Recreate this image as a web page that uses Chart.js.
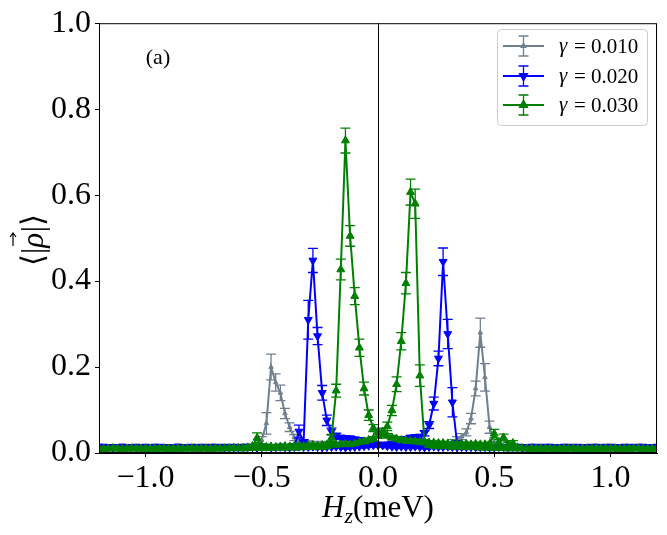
<!DOCTYPE html>
<html>
<head>
<meta charset="utf-8">
<script src="https://cdn.jsdelivr.net/npm/chart.js@4.4.1/dist/chart.umd.min.js"></script>
<style>
  body { margin: 0; background: #fff; }
  #wrap { width: 667px; height: 535px; }
</style>
</head>
<body>
<div id="wrap"><canvas id="rho-chart" width="667" height="535"></canvas></div>
<script>
// field grid, meV
const hzStart = -1.2;
const hzStep = 0.02;

const seriesNames = ["0.010", "0.020", "0.030"];
const seriesColors = ["#708090", "#0000ff", "#008000"];
const xTicks = [-1.0, -0.5, 0.0, 0.5, 1.0];
const yTicks = [0.0, 0.2, 0.4, 0.6, 0.8, 1.0];

// <|rho|> for the sweep with the peak at positive Hz and the one with the peak at negative Hz
// (both listed in ascending Hz order)
const grayUp = [
  .010,.011,.010,.009,.010,.011,.010,.010,.011,.010,
  .010,.009,.010,.011,.010,.010,.011,.010,.009,.010,
  .011,.010,.010,.011,.010,.011,.010,.011,.012,.011,
  .011,.012,.011,.012,.013,.012,.013,.012,.013,.014,
  .013,.014,.015,.014,.015,.016,.015,.016,.017,.016,
  .017,.018,.017,.018,.019,.018,.019,.020,.019,.020,
  .021,.020,.021,.020,.021,.022,.021,.020,.021,.020,
  .021,.020,.021,.020,.021,.022,.026,.032,.038,.048,
  .080,.150,.280,.176,.060,.025,.015,.012,.011,.010,
  .011,.010,.010,.011,.010,.009,.010,.011,.010,.010,
  .011,.010,.009,.010,.011,.010,.010,.011,.010,.009,
  .010,.011,.010,.010,.011,.010,.009,.010,.011,.010,.010
];
const grayDown = [
  .010,.010,.011,.010,.009,.010,.011,.010,.010,.011,
  .010,.011,.010,.009,.010,.011,.010,.010,.011,.010,
  .010,.011,.010,.010,.011,.010,.011,.010,.010,.011,
  .011,.010,.012,.014,.018,.030,.069,.200,.164,.140,
  .092,.060,.036,.030,.026,.024,.023,.022,.023,.022,
  .022,.021,.022,.021,.020,.021,.020,.021,.020,.020,
  .020,.019,.020,.019,.018,.019,.018,.017,.018,.017,
  .016,.017,.016,.015,.016,.015,.014,.015,.014,.013,
  .014,.013,.012,.013,.012,.011,.012,.011,.010,.011,
  .010,.011,.010,.010,.011,.010,.009,.010,.011,.010,
  .010,.011,.010,.009,.010,.011,.010,.010,.011,.010,
  .010,.010,.011,.010,.009,.010,.011,.010,.010,.011,.010
];
const blueUp = [
  .014,.015,.014,.013,.014,.015,.014,.014,.015,.014,
  .013,.014,.015,.014,.014,.013,.014,.015,.014,.014,
  .015,.014,.013,.014,.015,.014,.014,.015,.014,.013,
  .014,.015,.014,.014,.013,.014,.015,.014,.014,.015,
  .014,.013,.014,.015,.014,.014,.015,.014,.013,.014,
  .014,.015,.014,.013,.014,.014,.015,.016,.017,.018,
  .018,.019,.020,.022,.025,.030,.033,.036,.037,.038,
  .046,.065,.115,.220,.445,.277,.118,.023,.016,.014,
  .015,.014,.014,.015,.014,.013,.014,.015,.014,.014,
  .015,.014,.013,.014,.015,.014,.014,.015,.014,.013,
  .014,.015,.014,.014,.013,.014,.015,.014,.014,.015,
  .014,.013,.014,.015,.014,.014,.015,.014,.013,.014,.015
];
const blueDown = [
  .015,.014,.014,.013,.014,.015,.014,.014,.013,.014,
  .015,.014,.014,.015,.014,.013,.014,.015,.014,.014,
  .013,.014,.015,.014,.014,.015,.014,.013,.014,.015,
  .014,.014,.015,.014,.013,.014,.015,.014,.014,.015,
  .014,.015,.016,.050,.025,.310,.448,.272,.140,.076,
  .050,.040,.036,.035,.034,.032,.030,.027,.024,.022,
  .020,.018,.016,.015,.014,.015,.014,.014,.015,.014,
  .013,.014,.015,.014,.014,.015,.014,.013,.014,.015,
  .014,.014,.015,.014,.013,.014,.015,.014,.014,.015,
  .014,.013,.014,.015,.014,.014,.015,.014,.013,.014,
  .015,.014,.014,.015,.014,.013,.014,.015,.014,.014,
  .015,.014,.013,.014,.015,.014,.014,.015,.014,.013,.014
];
const greenUp = [
  .010,.009,.010,.011,.010,.009,.010,.010,.011,.010,
  .009,.010,.011,.010,.010,.009,.010,.011,.010,.010,
  .011,.010,.010,.011,.010,.011,.010,.011,.011,.012,
  .011,.012,.013,.016,.035,.016,.014,.015,.014,.015,
  .016,.015,.016,.017,.016,.017,.018,.017,.018,.019,
  .020,.019,.020,.021,.020,.022,.025,.027,.030,.033,
  .040,.050,.062,.099,.160,.260,.395,.607,.580,.180,
  .025,.018,.016,.015,.016,.015,.014,.015,.014,.013,
  .014,.013,.012,.013,.012,.011,.012,.011,.010,.011,
  .010,.011,.010,.009,.010,.011,.010,.010,.009,.010,
  .011,.010,.010,.009,.010,.011,.010,.009,.010,.010,
  .011,.010,.009,.010,.010,.011,.010,.009,.010,.010,.011
];
const greenDown = [
  .009,.010,.010,.011,.010,.009,.010,.011,.010,.010,
  .011,.010,.009,.010,.011,.010,.010,.009,.010,.011,
  .010,.010,.011,.010,.009,.010,.011,.010,.011,.010,
  .011,.010,.011,.012,.011,.012,.011,.012,.012,.013,
  .012,.013,.012,.013,.013,.014,.013,.014,.014,.015,
  .035,.145,.427,.727,.505,.365,.245,.150,.088,.058,
  .050,.045,.040,.036,.033,.030,.029,.028,.027,.026,
  .025,.024,.024,.023,.023,.022,.022,.021,.021,.021,
  .020,.021,.020,.020,.021,.045,.025,.036,.020,.023,
  .013,.011,.010,.011,.010,.009,.010,.011,.010,.010,
  .009,.010,.011,.010,.010,.009,.010,.011,.010,.010,
  .010,.011,.010,.009,.010,.010,.011,.010,.009,.010,.010
];

// error bars, in units of 1e-3
const grayUpErr = [
  3,4,3,3,4,3,3,4,3,3, 4,3,3,4,3,3,4,3,3,4, 3,3,4,3,3,4,3,3,4,3,
  3,4,3,4,4,3,4,4,3,4, 4,4,3,4,4,4,4,4,4,4, 4,4,4,4,4,4,4,4,4,4,
  4,4,4,4,4,4,4,4,4,4, 4,4,4,4,4,4,5,6,7,8, 12,17,34,32,14,6,4,4,3,3,
  3,4,3,3,4,3,3,4,3,3, 4,3,3,4,3,3,4,3,3,4, 3,3,4,3,3,4,3,3,4,3,3
];
const grayDownErr = [
  3,3,4,3,3,4,3,3,4,3, 3,4,3,3,4,3,3,4,3,3, 4,3,3,4,3,3,4,3,3,4,
  3,4,4,4,5,8,25,30,20,18, 12,10,7,5,5,4,4,4,4,4, 4,4,4,4,4,4,4,4,4,4,
  4,4,4,4,4,4,4,4,4,4, 4,4,4,4,4,4,3,4,3,4, 3,4,3,3,4,3,3,4,3,3,
  4,3,3,4,3,3,4,3,3,4, 3,3,4,3,3,4,3,3,4,3, 3,4,3,3,4,3,3,4,3,3,4
];
const blueUpErr = [
  4,3,4,4,3,4,4,3,4,4, 3,4,4,3,4,4,3,4,4,3, 4,4,3,4,4,3,4,4,3,4,
  4,3,4,4,3,4,4,3,4,4, 3,4,4,3,4,4,3,4,4,3, 4,4,3,4,4,3,4,4,4,4,
  4,4,4,5,5,5,5,5,5,5, 6,8,15,17,32,34,34,6,4,4, 3,4,4,3,4,4,3,4,4,3,
  4,4,3,4,4,3,4,4,3,4, 4,3,4,4,3,4,4,3,4,4, 3,4,4,3,4,4,3,4,4,3,4
];
const blueDownErr = [
  4,4,3,4,4,3,4,4,3,4, 4,3,4,4,3,4,4,3,4,4, 3,4,4,3,4,4,3,4,4,3,
  4,4,3,4,4,3,4,4,3,4, 4,4,4,15,6,45,28,20,17,12, 8,6,5,5,5,5,5,5,4,4,
  4,4,4,3,4,4,3,4,4,3, 4,4,3,4,4,3,4,4,3,4, 4,3,4,4,3,4,4,3,4,4,
  3,4,4,3,4,4,3,4,4,3, 4,4,3,4,4,3,4,4,3,4, 4,3,4,4,3,4,4,3,4,4,3
];
const greenUpErr = [
  3,3,4,3,3,4,3,3,4,3, 3,4,3,3,4,3,3,4,3,3, 4,3,3,4,3,3,4,3,3,4,
  3,4,4,4,12,4,4,4,4,4, 4,4,4,4,4,4,4,4,4,4, 4,4,4,4,4,4,4,5,5,5,
  6,8,10,12,17,20,25,30,34,25, 6,4,4,4,4,4,4,4,4,4, 4,4,3,4,3,4,3,4,3,3,
  4,3,3,4,3,3,4,3,3,4, 3,3,4,3,3,4,3,3,4,3, 3,4,3,3,4,3,3,4,3,3,4
];
const greenDownErr = [
  3,4,3,3,4,3,3,4,3,3, 4,3,3,4,3,3,4,3,3,4, 3,3,4,3,3,4,3,3,4,3,
  3,4,3,4,4,4,4,4,4,4, 4,4,4,4,4,4,4,4,4,4, 8,15,24,29,24,20,20,15,12,8,
  6,6,5,5,5,5,5,5,5,5, 5,4,4,4,4,4,4,4,4,4, 4,4,4,4,4,10,6,8,5,6,
  4,3,3,4,3,3,4,3,3,4, 3,3,4,3,3,4,3,3,4,3, 3,4,3,3,4,3,3,4,3,3,4
];

const hz = grayUp.map((_, i) => +(hzStart + i * hzStep).toFixed(2));

// up sweep left->right, then down sweep right->left, drawn as one connected line
function buildSweep(up, down, upErr, downErr) {
  const points = [];
  const errors = [];
  up.forEach((v, i) => { points.push({ x: hz[i], y: v }); errors.push(upErr[i] / 1000); });
  for (let i = down.length - 1; i >= 0; i--) {
    points.push({ x: hz[i], y: down[i] });
    errors.push(downErr[i] / 1000);
  }
  return { points, errors };
}

const graySweep = buildSweep(grayUp, grayDown, grayUpErr, grayDownErr);
const blueSweep = buildSweep(blueUp, blueDown, blueUpErr, blueDownErr);
const greenSweep = buildSweep(greenUp, greenDown, greenUpErr, greenDownErr);

const serif = "'Liberation Serif', 'DejaVu Serif', serif";
const pointStyles = [
  { style: "triangle", radius: 2.6, rotation: 0 },
  { style: "triangle", radius: 4.6, rotation: 180 },
  { style: "triangle", radius: 4.6, rotation: 0 }
];

function drawErrorBar(ctx, x, yTop, yBot, half) {
  ctx.beginPath();
  ctx.moveTo(x, yTop); ctx.lineTo(x, yBot);
  ctx.moveTo(x - half, yTop); ctx.lineTo(x + half, yTop);
  ctx.moveTo(x - half, yBot); ctx.lineTo(x + half, yBot);
  ctx.stroke();
}

const errorBarPlugin = {
  id: "errorBars",
  afterDatasetDraw(chart, args) {
    const ds = chart.data.datasets[args.index];
    if (!ds.errors) return;
    const ctx = chart.ctx;
    const area = chart.chartArea;
    const yScale = chart.scales.y;
    ctx.save();
    ctx.beginPath();
    ctx.rect(area.left, area.top, area.right - area.left, area.bottom - area.top);
    ctx.clip();
    ctx.strokeStyle = ds.borderColor;
    ctx.lineWidth = 1.3;
    args.meta.data.forEach((el, j) => {
      const v = ds.data[j].y;
      const e = ds.errors[j];
      drawErrorBar(ctx, el.x, yScale.getPixelForValue(v + e), yScale.getPixelForValue(v - e), 5);
    });
    ctx.restore();
  }
};

const decorPlugin = {
  id: "decor",
  afterDatasetsDraw(chart) {
    const ctx = chart.ctx;
    const a = chart.chartArea;
    const x0 = chart.scales.x.getPixelForValue(0);
    ctx.save();
    ctx.strokeStyle = "#000";
    ctx.lineWidth = 1;
    ctx.beginPath();
    ctx.moveTo(Math.round(x0) + 0.5, a.top);
    ctx.lineTo(Math.round(x0) + 0.5, a.bottom);
    ctx.stroke();
    ctx.strokeRect(a.left + 0.5, a.top + 0.5, a.right - a.left - 1, a.bottom - a.top - 1);
    ctx.restore();
  },
  afterDraw(chart) {
    const ctx = chart.ctx;
    ctx.save();
    ctx.fillStyle = "#000";

    // panel label
    ctx.font = "22px " + serif;
    ctx.textAlign = "center";
    ctx.textBaseline = "alphabetic";
    ctx.fillText("(a)", 158, 64);

    // x axis title: H_z(meV)
    const big = "31px " + serif;
    const bigIt = "italic 31px " + serif;
    const smallIt = "italic 22px " + serif;
    ctx.textAlign = "left";
    ctx.font = bigIt; const wH = ctx.measureText("H").width;
    ctx.font = smallIt; const wz = ctx.measureText("z").width;
    ctx.font = big; const wm = ctx.measureText("(meV)").width;
    let tx = 378 - (wH + wz + wm) / 2;
    const ty = 517;
    ctx.font = bigIt; ctx.fillText("H", tx, ty); tx += wH;
    ctx.font = smallIt; ctx.fillText("z", tx, ty + 6); tx += wz;
    ctx.font = big; ctx.fillText("(meV)", tx, ty);

    // y axis title: <|rho vec|>
    ctx.translate(43, 240);
    ctx.rotate(-Math.PI / 2);
    ctx.font = big;
    const parts = ["\u27E8|", "\u03C1", "|\u27E9"];
    const w = parts.map(p => ctx.measureText(p).width);
    let px = -(w[0] + w[1] + w[2]) / 2;
    ctx.fillText(parts[0], px, 0); px += w[0];
    const rhoX = px;
    ctx.font = bigIt;
    ctx.fillText(parts[1], px, 0); px += w[1];
    ctx.font = big;
    ctx.fillText(parts[2], px, 0);
    // vector arrow over rho
    const ax = rhoX + w[1] / 2;
    ctx.strokeStyle = "#000";
    ctx.lineWidth = 1.2;
    ctx.beginPath();
    ctx.moveTo(ax - 6, -30); ctx.lineTo(ax + 7, -30);
    ctx.moveTo(ax + 3, -33); ctx.lineTo(ax + 7, -30); ctx.lineTo(ax + 3, -27);
    ctx.stroke();
    ctx.restore();

    // legend box
    ctx.save();
    const bx = 497, by = 29, bw = 150, bh = 96, r = 4;
    ctx.fillStyle = "rgba(255,255,255,0.8)";
    ctx.strokeStyle = "#cccccc";
    ctx.lineWidth = 1;
    ctx.beginPath();
    ctx.roundRect(bx + 0.5, by + 0.5, bw, bh, r);
    ctx.fill();
    ctx.stroke();
    const rows = [46, 76, 105];
    seriesNames.forEach((name, k) => {
      const yy = rows[k];
      const col = seriesColors[k];
      ctx.strokeStyle = col;
      ctx.lineWidth = 2;
      ctx.beginPath();
      ctx.moveTo(503, yy); ctx.lineTo(544, yy);
      ctx.stroke();
      ctx.lineWidth = 1.3;
      drawErrorBar(ctx, 523.5, yy - 10, yy + 10, 5);
      const ps = pointStyles[k];
      ctx.fillStyle = col;
      Chart.helpers.drawPoint(ctx, {
        pointStyle: ps.style, radius: ps.radius, rotation: ps.rotation, borderWidth: 1
      }, 523.5, yy);
      ctx.fill();
      ctx.fillStyle = "#000";
      ctx.textBaseline = "middle";
      ctx.textAlign = "left";
      ctx.font = "italic 21px " + serif;
      ctx.fillText("\u03B3", 559, yy);
      ctx.font = "21px " + serif;
      ctx.fillText("= " + name, 574, yy + 1);
    });
    ctx.restore();
  }
};

const sweeps = [graySweep, blueSweep, greenSweep];
const datasets = sweeps.map((s, k) => ({
  label: "\u03B3 = " + seriesNames[k],
  data: s.points,
  errors: s.errors,
  showLine: true,
  borderColor: seriesColors[k],
  backgroundColor: seriesColors[k],
  borderWidth: 2,
  pointStyle: pointStyles[k].style,
  pointRadius: pointStyles[k].radius,
  pointRotation: pointStyles[k].rotation,
  pointBorderWidth: 1,
  pointHoverRadius: pointStyles[k].radius,
  tension: 0,
  clip: 0,
  order: 2 - k
}));

new Chart(document.getElementById("rho-chart"), {
  type: "scatter",
  data: { datasets },
  options: {
    responsive: false,
    animation: false,
    events: [],
    layout: { padding: { top: 20, right: 10, left: 0, bottom: 0 } },
    plugins: { legend: { display: false }, tooltip: { enabled: false } },
    scales: {
      x: {
        type: "linear",
        min: -1.2,
        max: 1.2,
        afterBuildTicks: s => { s.ticks = xTicks.map(v => ({ value: v })); },
        afterFit: s => { s.height = 82; },
        grid: { drawOnChartArea: false, drawTicks: true, tickLength: 4, color: "#000" },
        border: { display: true, color: "#000" },
        ticks: {
          color: "#000",
          font: { family: serif, size: 32 },
          padding: 2,
          maxRotation: 0,
          callback: v => (v < 0 ? "\u2212" : "") + Math.abs(v).toFixed(1)
        }
      },
      y: {
        type: "linear",
        min: 0,
        max: 1,
        afterBuildTicks: s => { s.ticks = yTicks.map(v => ({ value: v })); },
        afterFit: s => { s.width = 99; },
        grid: { drawOnChartArea: false, drawTicks: true, tickLength: 4, color: "#000" },
        border: { display: true, color: "#000" },
        ticks: {
          color: "#000",
          font: { family: serif, size: 32 },
          padding: 4,
          callback: v => Number(v).toFixed(1)
        }
      }
    }
  },
  plugins: [errorBarPlugin, decorPlugin]
});
</script>
</body>
</html>
